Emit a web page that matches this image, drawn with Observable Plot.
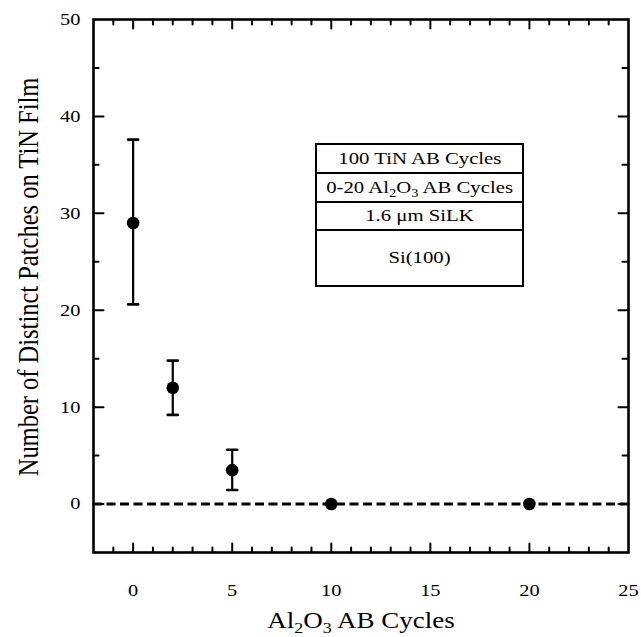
<!DOCTYPE html>
<html>
<head>
<meta charset="utf-8">
<script src="https://cdn.jsdelivr.net/npm/d3@7"></script>
<script src="https://cdn.jsdelivr.net/npm/@observablehq/plot@0.6"></script>
<style>
  html, body { margin: 0; padding: 0; background: #fff; }
  #wrap { position: relative; width: 641px; height: 637px; }
  #inset { position: absolute; box-sizing: border-box; border: 2.5px solid #000; background: #fff;
           font-family: "Liberation Serif", serif; font-size: 17px; color: #000; }
  #inset .row { box-sizing: border-box; display: flex; align-items: center; justify-content: center;
                border-bottom: 2px solid #000; white-space: nowrap; }
  #inset .row:last-child { border-bottom: none; }
  #inset .row span { display: inline-block; transform: scaleX(1.22); }
  sub { font-size: 70%; vertical-align: -0.3em; line-height: 0; }
</style>
</head>
<body>
<div id="wrap"></div>
<script>
// ---- data ----
const cycles   = [0, 2, 5, 10, 20];
const patches  = [29, 12, 3.5, 0, 0];
const errLow   = [20.6, 9.2, 1.45, null, null];
const errHigh  = [37.6, 14.8, 5.6, null, null];

const xTickLabels = [0, 5, 10, 15, 20, 25];
const yTickLabels = [0, 10, 20, 30, 40, 50];
const xMajor = [0, 5, 10, 15, 20];
const xMinor = [-1, 1, 2, 3, 4, 6, 7, 8, 9, 11, 12, 13, 14, 16, 17, 18, 19, 21, 22, 23, 24];
const yMajor = [0, 10, 20, 30, 40];
const yMinor = [5, 15, 25, 35, 45];

const xTitle = "Al2O3 AB Cycles";
const yTitle = "Number of Distinct Patches on TiN Film";
const layers = ["100 TiN AB Cycles", "0-20 Al<sub>2</sub>O<sub>3</sub> AB Cycles", "1.6 μm SiLK", "Si(100)"];
const layerHeights = [29, 29, 28, 54];
// inset box anchor in data units: [x left, x right, y top]
const insetAnchor = {x1: 9.2, x2: 19.75, yTop: 37.2};

(function () {
const pts = cycles.map((c, i) => ({x: c, y: patches[i], lo: errLow[i], hi: errHigh[i]}));
const bars = pts.filter(d => d.lo != null);

const line = {draw(ctx, l) { ctx.moveTo(0, 0); ctx.lineTo(0, -l); }};
const tick = (data, k, anchor, rotate, length) => Plot.vector(data, {
  [k]: d => d, frameAnchor: anchor, rotate, length, anchor: "start", shape: line,
  stroke: "#000", strokeWidth: 2
});

const plot = Plot.plot({
  width: 641, height: 637,
  marginLeft: 93, marginRight: 13, marginTop: 19, marginBottom: 85,
  style: {fontFamily: "Liberation Serif, Times New Roman, serif", color: "#000", background: "#fff"},
  x: {domain: [-2, 25]},
  y: {domain: [-5, 50]},
  marks: [
    Plot.ruleY([0], {stroke: "#000", strokeWidth: 3, strokeDasharray: "9,4.5"}),
    Plot.ruleX(bars, {x: "x", y1: "lo", y2: "hi", stroke: "#000", strokeWidth: 2.2}),
    Plot.vector(bars, {x: "x", y: "lo", rotate: 90, length: 10, anchor: "middle", shape: line, stroke: "#000", strokeWidth: 2.6}),
    Plot.vector(bars, {x: "x", y: "hi", rotate: 90, length: 10, anchor: "middle", shape: line, stroke: "#000", strokeWidth: 2.6}),
    Plot.dot(pts, {x: "x", y: "y", r: 6.3, fill: "#000"}),
    tick(xMajor, "x", "bottom", 0, 9),
    tick(xMinor, "x", "bottom", 0, 5),
    tick(xMajor, "x", "top", 180, 9),
    tick(xMinor, "x", "top", 180, 5),
    tick(yMajor, "y", "left", 90, 10),
    tick(yMinor, "y", "left", 90, 5),
    tick(yMajor, "y", "right", -90, 10),
    tick(yMinor, "y", "right", -90, 6),
    Plot.frame({stroke: "#000", strokeWidth: 2.6}),
    Plot.axisX(xTickLabels, {tickSize: 0, tickPadding: 31, fontSize: 17, label: null}),
    Plot.axisY(yTickLabels, {tickSize: 0, tickPadding: 13, fontSize: 17, label: null}),
    Plot.text([xTitle], {frameAnchor: "bottom", dy: 75, fontSize: 22.5, textAnchor: "middle", fill: "#000"}),
    Plot.text([yTitle], {frameAnchor: "left", rotate: -90, dx: -65, dy: -9, fontSize: 24.5, textAnchor: "middle", fill: "#000"})
  ]
});

// subscripts in the x title
plot.querySelectorAll("text").forEach(t => {
  if (t.textContent === xTitle) {
    t.innerHTML = 'Al<tspan dy="5" font-size="15">2</tspan><tspan dy="-5">O</tspan><tspan dy="5" font-size="15">3</tspan><tspan dy="-5"> AB Cycles</tspan>';
  }
});
// horizontal stretch of the glyphs, as in the reference
plot.querySelectorAll("text").forEach(t => {
  const tr = t.getAttribute("transform");
  const m = tr && tr.match(/^\s*translate\(([^,\s]+)[,\s]+([^)]+)\)(.*)$/);
  if (m) t.setAttribute("transform", `translate(${m[1]},${m[2]}) scale(1.2,1)${m[3]}`);
  else {
    const x = t.getAttribute("x") || 0, y = t.getAttribute("y") || 0;
    t.removeAttribute("x"); t.removeAttribute("y");
    t.setAttribute("transform", `translate(${x},${y}) scale(1.2,1)${tr ? " " + tr : ""}`);
  }
});

const wrap = document.getElementById("wrap");
wrap.appendChild(plot);

// inset layer diagram
const sx = plot.scale("x"), sy = plot.scale("y");
const inset = document.createElement("div");
inset.id = "inset";
const bx1 = sx.apply(insetAnchor.x1), bx2 = sx.apply(insetAnchor.x2), by = sy.apply(insetAnchor.yTop);
inset.style.left = bx1 + "px";
inset.style.top = by + "px";
inset.style.width = (bx2 - bx1) + "px";
layers.forEach((txt, i) => {
  const r = document.createElement("div");
  r.className = "row";
  r.style.height = layerHeights[i] + "px";
  r.innerHTML = `<span>${txt}</span>`;
  inset.appendChild(r);
});
wrap.appendChild(inset);
})();
</script>
</body>
</html>
